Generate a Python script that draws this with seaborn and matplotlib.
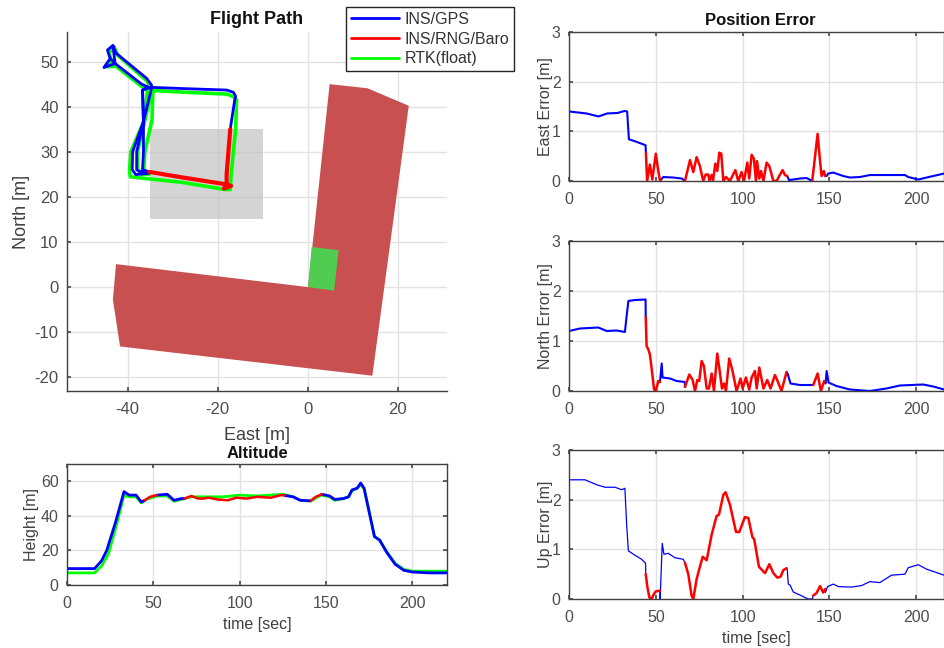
import matplotlib

matplotlib.use("Agg")
import matplotlib.pyplot as plt
from matplotlib.lines import Line2D
import seaborn as sns

BLUE = "#0000FF"
RED = "#FF0000"
GREEN = "#00FF00"
TICK_GREY = "#4D4D4D"

# flight path (east, north) in metres
GPS_E_1 = [-43.3, -44.5, -43.9, -45.3, -42.8, -36.9, -35.5, -36.7, -36.5, -38.9, -39.0, -38.2, -35.2]
GPS_N_1 = [53.6, 52.6, 50.7, 48.7, 49.6, 45.0, 44.4, 43.7, 36.7, 30.0, 26.0, 24.9, 25.2]
GPS_E_2 = [-17.2, -16.2, -16.0, -16.5, -18.0, -27.0, -34.8, -36.7, -36.5, -38.0, -38.0, -37.4, -35.5, -36.7, -36.5, -36.5, -34.8, -34.7, -35.8, -42.6, -43.3, -42.8, -43.9]
GPS_N_2 = [35.0, 41.5, 42.3, 43.2, 43.7, 44.0, 44.3, 43.7, 36.7, 30.0, 26.0, 25.6, 25.6, 26.0, 30.0, 36.7, 43.7, 44.8, 46.3, 51.9, 53.6, 49.6, 50.7]
RNG_E = [-35.2, -28.0, -18.5, -17.0, -18.6, -18.0, -18.0, -17.2]
RNG_N = [25.5, 24.3, 22.8, 22.4, 21.8, 23.0, 25.0, 35.0]
RTK_E = [-43.0, -44.2, -43.6, -44.9, -42.6, -36.9, -35.6, -36.3, -39.3, -39.6, -39.4, -28.0, -18.4, -17.2, -17.0, -16.0, -15.8, -16.4, -18.0, -27.0, -34.6, -36.2, -37.8, -37.8, -37.0, -35.2, -36.4, -36.2, -34.6, -34.4, -35.8, -42.2, -43.0]
RTK_N = [53.2, 52.0, 50.2, 48.9, 49.0, 44.5, 43.8, 37.0, 30.0, 25.6, 24.4, 23.2, 21.6, 21.6, 25.0, 35.0, 41.5, 42.2, 42.8, 43.2, 43.6, 37.0, 30.0, 26.0, 25.0, 25.0, 26.0, 30.0, 37.0, 43.8, 45.8, 51.4, 53.2]

# map shapes
ROAD_E = [4.9, 13.3, 22.5, 14.4, -41.7, -43.3, -42.6, 0.1]
ROAD_N = [45.0, 44.1, 40.2, -19.8, -13.3, -2.9, 5.0, -0.1]
PAD_E = [0.9, 6.9, 5.9, 0.1]
PAD_N = [8.8, 8.1, -0.9, -0.1]
BOX_E = [-35, -10, -10, -35]
BOX_N = [35, 35, 15, 15]

# altitude
ALT_T = [0, 16, 20, 23, 28, 33, 36, 40, 43, 45, 48, 52, 58, 62, 66, 68, 72, 76, 79, 82, 87, 93, 98, 104, 110, 118, 124, 126, 131, 135, 141, 144, 147.5, 152, 155, 160, 163, 165, 168, 170, 172, 175, 178, 181, 185, 190, 195, 200, 210, 220]
ALT_H = [9.5, 9.5, 14, 20, 36, 54, 52, 52, 48, 49, 51, 52, 52.5, 49, 50, 50, 51.5, 50, 50, 50.5, 49.5, 49, 50.5, 50, 51, 50.5, 52, 51.8, 51, 49, 48.7, 51, 52.5, 51.5, 49.5, 50, 51, 55, 56, 59, 56, 42, 28, 26, 19, 12, 8.5, 7.5, 7, 7]
ALT_SPANS = [(45, 52), (68, 126), (141, 147.5)]
RTK_T = [0, 16, 20, 24, 29, 33, 36, 40, 43, 46, 52, 58, 62, 68, 72, 80, 90, 100, 110, 125, 131, 135, 141, 147, 152, 155, 160, 163, 165, 168, 170, 172, 175, 178, 181, 185, 190, 195, 200, 210, 220]
RTK_H = [7, 7, 11, 18, 36, 52, 51, 51, 47.5, 49.5, 51.5, 51.5, 48.5, 50, 51, 51, 51, 52, 51.5, 52.5, 51, 49, 48.5, 52, 51, 49, 50, 51, 54.5, 56, 58, 55.5, 42, 28, 26, 19.5, 12.5, 9, 8, 8, 8]

# position errors
EAST_T = [0, 5, 10, 17, 22, 28, 32, 33.5, 34.5, 38, 44.1, 44.3, 45, 46.6, 48, 50, 51, 52.4, 54.3, 60, 65, 66.8, 69.7, 71.6, 73.5, 75.4, 77.3, 78.7, 80.2, 81, 82.1, 83, 84.3, 85.4, 86.6, 87.7, 88.9, 90.4, 92.7, 95.8, 97.5, 99.4, 100.8, 102.7, 103.8, 105.2, 106.5, 107.7, 108.3, 109.6, 110.6, 112, 113.8, 115.4, 117.7, 119.6, 121.1, 123, 124.4, 125.7, 126.7, 129.2, 133, 136.9, 140.1, 143.2, 144.6, 145.5, 146.8, 147.6, 148.4, 149.3, 152.2, 158, 161.8, 167.6, 173.3, 182.9, 193.5, 195.4, 201.2, 206, 216]
EAST_V = [1.4, 1.38, 1.36, 1.3, 1.36, 1.37, 1.41, 1.4, 0.84, 0.8, 0.72, 0.56, 0, 0.33, 0.03, 0.55, 0.3, 0, 0.08, 0.07, 0.05, 0, 0.42, 0.18, 0.48, 0.3, 0, 0.13, 0.13, 0, 0.12, 0.02, 0.35, 0.2, 0.57, 0.55, 0, 0.08, 0, 0.22, 0, 0.18, 0, 0.37, 0.05, 0.53, 0.45, 0, 0.4, 0.05, 0.2, 0, 0.37, 0.3, 0, 0, 0.1, 0.22, 0.12, 0.1, 0.02, 0.03, 0.05, 0.06, 0, 0.95, 0.4, 0.1, 0.2, 0.1, 0.1, 0.15, 0.17, 0.1, 0.07, 0.08, 0.12, 0.12, 0.12, 0.08, 0.03, 0.07, 0.15]
EAST_SPANS = [(44.3, 52.4), (66.8, 125.7), (140.1, 147.6)]

NORTH_T = [0, 6.3, 16.9, 21.7, 27.4, 32.2, 33.2, 34.2, 38, 44.1, 44.2, 44.7, 45.7, 46.6, 47.6, 49, 50.1, 51.4, 52.4, 53.4, 53.9, 58.2, 62, 66.7, 66.8, 69.3, 71.2, 72.6, 73.9, 75, 76.4, 77.7, 79.3, 80.6, 82.2, 83.5, 85.4, 86.6, 88.1, 89.3, 90.4, 92.3, 94.2, 96.5, 98.8, 100, 101.9, 103.8, 105.2, 107.1, 108.1, 109.6, 112, 114.2, 116.1, 118.6, 119.9, 122.4, 125.3, 125.9, 127.6, 133, 140.7, 143.2, 145.1, 147, 147.8, 148.4, 149.5, 154, 161.8, 173.3, 182.9, 190.6, 204, 209.8, 216]
NORTH_V = [1.2, 1.25, 1.27, 1.2, 1.21, 1.18, 1.5, 1.8, 1.82, 1.83, 1.48, 0.9, 0.83, 0.73, 0.45, 0.03, 0, 0.2, 0.18, 0.55, 0.27, 0.25, 0.2, 0.18, 0.08, 0.33, 0.22, 0, 0.22, 0.2, 0.6, 0.5, 0.05, 0.05, 0.35, 0, 0.75, 0.45, 0.05, 0.15, 0, 0.65, 0.4, 0, 0.25, 0.05, 0.27, 0.03, 0.27, 0.4, 0.05, 0.47, 0.05, 0.22, 0.05, 0.32, 0.22, 0, 0.38, 0.35, 0.15, 0.12, 0.12, 0.35, 0, 0.2, 0.15, 0.4, 0.17, 0.1, 0.03, 0, 0.05, 0.11, 0.13, 0.09, 0.03]
NORTH_SPANS = [(44.2, 52.4), (66.8, 125.3), (140.7, 147)]

UP_T = [0, 9.2, 16, 20.7, 26.5, 30.3, 32.2, 33.2, 34.2, 38, 41.8, 44.1, 44.2, 45.1, 46.3, 47.6, 48.6, 49.9, 52.4, 52.5, 53.7, 54.7, 57.2, 61, 65.8, 66.8, 68.7, 70.6, 71.6, 73.5, 75.4, 77, 79.3, 82.2, 85, 86.4, 88.9, 90.2, 92.7, 96.2, 98.1, 101.3, 103.3, 105.6, 106.7, 109.4, 112.9, 115.4, 117.7, 120, 121.9, 123.4, 125.3, 125.7, 126.3, 127.3, 129.2, 133, 137.8, 140.1, 140.7, 142.6, 144.6, 146.4, 147.6, 147.7, 148.9, 152.2, 155.1, 162.8, 168.5, 173.3, 179, 185.8, 193.5, 195.4, 201.2, 206, 216]
UP_V = [2.4, 2.4, 2.3, 2.25, 2.25, 2.2, 2.23, 1.5, 0.97, 0.88, 0.8, 0.72, 0.5, 0.25, 0.03, 0, 0.08, 0.15, 0.17, 0, 1.12, 0.9, 0.92, 0.83, 0.8, 0.73, 0.5, 0.07, 0, 0.4, 0.65, 0.85, 0.78, 1.3, 1.67, 1.7, 2.1, 2.15, 1.9, 1.35, 1.35, 1.65, 1.63, 1.25, 1.2, 0.65, 0.52, 0.7, 0.52, 0.43, 0.45, 0.58, 0.62, 0.6, 0.3, 0.28, 0.14, 0.08, 0, 0, 0.07, 0.12, 0.26, 0.13, 0.2, 0.13, 0.25, 0.3, 0.25, 0.24, 0.27, 0.35, 0.33, 0.48, 0.5, 0.63, 0.69, 0.6, 0.48]
UP_SPANS = [(44.2, 52.4), (66.8, 125.3), (140.7, 147.6)]

sns.set_theme(style="whitegrid")
plt.rcParams.update({
    "font.family": ["Liberation Sans", "DejaVu Sans"],
    "axes.unicode_minus": False,
    "grid.color": "#E2E2E2",
    "grid.linewidth": 1.0,
    "axes.edgecolor": "#404040",
    "axes.linewidth": 1.0,
    "axes.labelcolor": "#404040",
    "xtick.color": TICK_GREY,
    "ytick.color": TICK_GREY,
    "xtick.direction": "in",
    "ytick.direction": "in",
    "xtick.bottom": True,
    "ytick.left": True,
    "xtick.major.size": 3,
    "ytick.major.size": 3,
    "xtick.major.pad": 8,
    "ytick.major.pad": 6,
})

W, H = 944, 648


def px_axes(fig, left, right, top, bottom):
    return fig.add_axes([left / W, 1 - bottom / H, (right - left) / W, (bottom - top) / H])


def draw(ax, x, y, color, lw):
    sns.lineplot(x=x, y=y, color=color, linewidth=lw, estimator=None, sort=False,
                 errorbar=None, legend=False, ax=ax)


def draw_spans(ax, t, v, spans, blue_lw, red_lw):
    # blue outside the spans, red inside them
    edges = [t[0]] + [e for s in spans for e in s] + [t[-1]]
    for a, b in zip(edges[::2], edges[1::2]):
        idx = [i for i, ti in enumerate(t) if a <= ti <= b]
        draw(ax, [t[i] for i in idx], [v[i] for i in idx], BLUE, blue_lw)
    for a, b in spans:
        idx = [i for i, ti in enumerate(t) if a <= ti <= b]
        draw(ax, [t[i] for i in idx], [v[i] for i in idx], RED, red_lw)


fig = plt.figure(figsize=(W / 100, H / 100), dpi=100, facecolor="white")

# ---- flight path ----
ax = px_axes(fig, 67, 447, 32, 391)
ax.fill(BOX_E, BOX_N, color="#BEBEBE", alpha=0.65, linewidth=0, zorder=2)
ax.fill(ROAD_E, ROAD_N, color="#C95050", linewidth=0, zorder=2)
ax.fill(PAD_E, PAD_N, color="#50CC50", linewidth=0, zorder=2)
draw(ax, RTK_E, RTK_N, GREEN, 2.6)
draw(ax, GPS_E_1, GPS_N_1, BLUE, 2.0)
draw(ax, GPS_E_2, GPS_N_2, BLUE, 2.0)
draw(ax, RNG_E, RNG_N, RED, 3.0)
ax.set_xlim(-53.5, 31)
ax.set_ylim(-23.2, 56.6)
ax.set_xticks([-40, -20, 0, 20])
ax.set_yticks([-20, -10, 0, 10, 20, 30, 40, 50])
ax.tick_params(labelsize=12)
ax.set_xlabel("East [m]", fontsize=13, labelpad=7)
ax.set_ylabel("North [m]", fontsize=13, labelpad=3)
ax.set_title("Flight Path", fontsize=13, fontweight="bold", color="#111111", pad=6)
ax.spines["top"].set_visible(False)
ax.spines["right"].set_visible(False)

handles = [Line2D([], [], color=BLUE, lw=2), Line2D([], [], color=RED, lw=2), Line2D([], [], color=GREEN, lw=2)]
fig.legend(handles, ["INS/GPS", "INS/RNG/Baro", "RTK(float)"], fontsize=11.5,
           loc="upper left", bbox_to_anchor=(346 / W, 1 - 7 / H), frameon=True, fancybox=False,
           framealpha=1, edgecolor="#262626", handlelength=3.0, handletextpad=0.35,
           borderpad=0.3, borderaxespad=0, labelspacing=0.3, labelcolor="#333333")

# ---- altitude ----
ax = px_axes(fig, 67, 447, 464, 585)
draw(ax, RTK_T, RTK_H, GREEN, 2.0)
draw_spans(ax, ALT_T, ALT_H, ALT_SPANS, 2.0, 1.8)
ax.set_xlim(0, 220)
ax.set_ylim(0, 70)
ax.set_xticks([0, 50, 100, 150, 200])
ax.set_yticks([0, 20, 40, 60])
ax.tick_params(labelsize=11.5, top=True, right=True)
ax.set_xlabel("time [sec]", fontsize=11.5, labelpad=4)
ax.set_ylabel("Height [m]", fontsize=11.5, labelpad=1)
ax.set_title("Altitude", fontsize=12, fontweight="bold", color="#111111", pad=4)

# ---- position errors ----
panels = [
    (32, 181, EAST_T, EAST_V, EAST_SPANS, "East Error [m]", 1.5),
    (241, 391, NORTH_T, NORTH_V, NORTH_SPANS, "North Error [m]", 1.5),
    (450, 599, UP_T, UP_V, UP_SPANS, "Up Error [m]", 0.9),
]
for top, bottom, t, v, spans, label, blue_lw in panels:
    ax = px_axes(fig, 569, 944, top, bottom)
    draw_spans(ax, t, v, spans, blue_lw, 1.8)
    ax.set_xlim(0, 216)
    ax.set_ylim(0, 3)
    ax.set_xticks([0, 50, 100, 150, 200])
    ax.set_yticks([0, 1, 2, 3])
    ax.tick_params(labelsize=11.5, top=True)
    ax.set_ylabel(label, fontsize=11.5, labelpad=-1)
    if top == 32:
        ax.set_title("Position Error", fontsize=12, fontweight="bold", color="#111111", pad=5, x=0.51)
    if top == 450:
        ax.set_xlabel("time [sec]", fontsize=11.5, labelpad=4)

fig.savefig("out.png", dpi=100, facecolor="white")
